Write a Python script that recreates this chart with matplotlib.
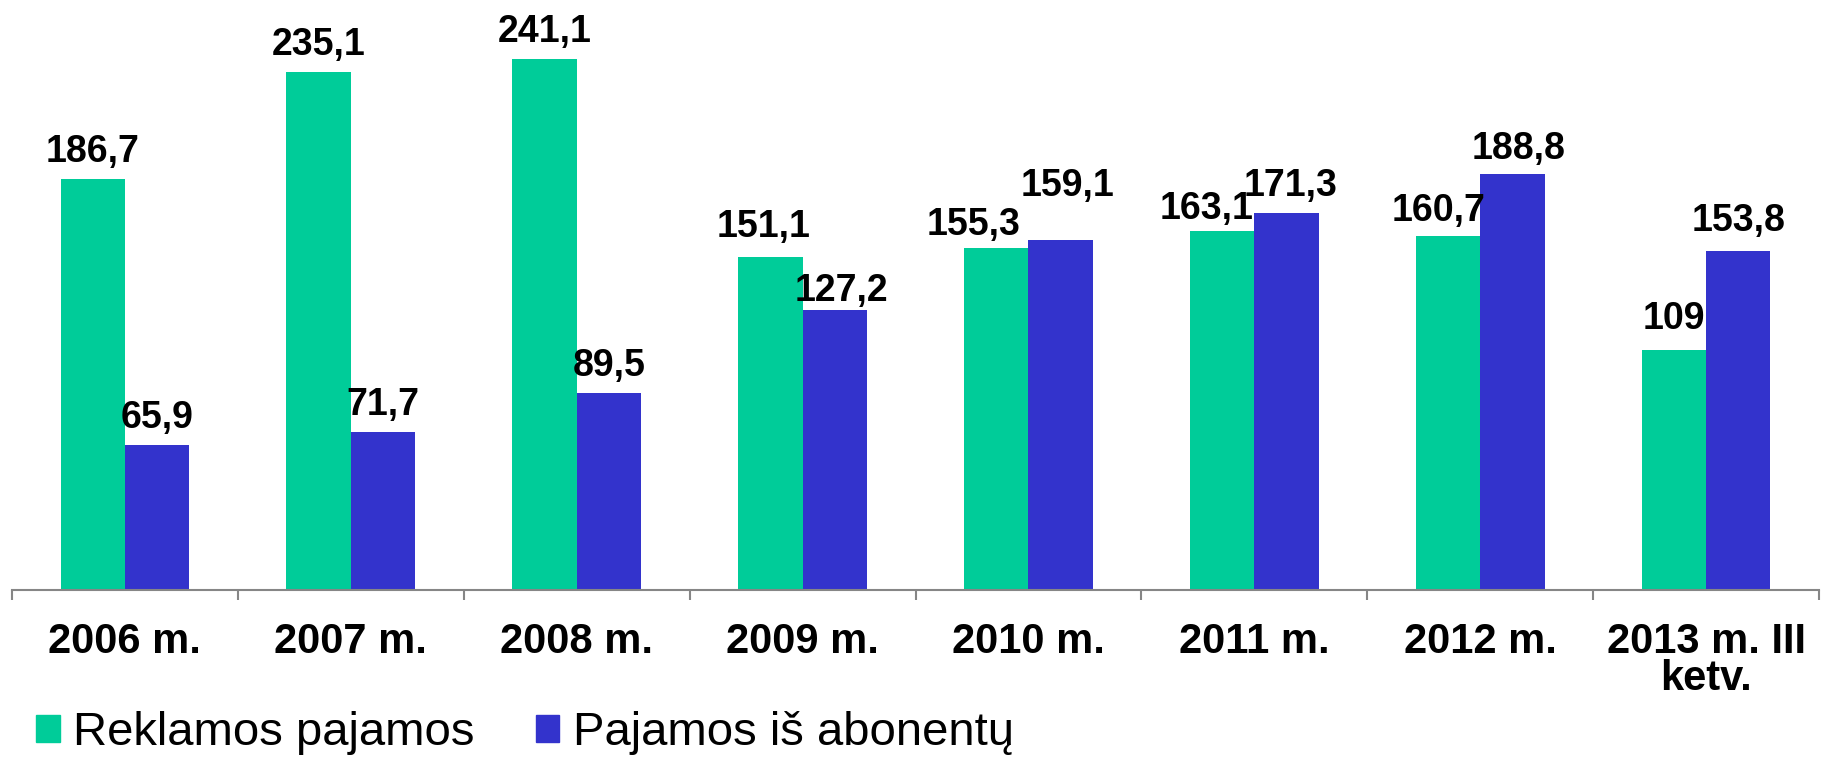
import matplotlib
matplotlib.use("Agg")
import matplotlib.pyplot as plt
from matplotlib.patches import Patch
import numpy as np

categories = ["2006 m.", "2007 m.", "2008 m.", "2009 m.", "2010 m.", "2011 m.", "2012 m.", "2013 m. III\nketv."]
reklamos = [186.7, 235.1, 241.1, 151.1, 155.3, 163.1, 160.7, 109]
abonentu = [65.9, 71.7, 89.5, 127.2, 159.1, 171.3, 188.8, 153.8]
series_names = ["Reklamos pajamos", "Pajamos iš abonentų"]

# label placement tweaks (style): horizontal shift in bar widths, gap above bar in px
green_dx = [0, 0, 0, -0.1, -0.35, -0.24, -0.14, 0]
blue_dx = [0, 0, 0, 0.1, 0.1, 0.07, 0.09, 0]
green_gap = [17, 17, 17, 20, 13, 12, 15, 21]
blue_gap = [17, 17, 17, 9, 44, 17, 15, 20]

GREEN = "#00CC99"
BLUE = "#3333CC"
AXIS = "#868686"

plt.rcParams["font.family"] = ["Liberation Sans", "DejaVu Sans"]

def fmt(v):
    s = f"{v:.1f}".replace(".", ",")
    if s.endswith(",0"):
        s = s[:-2]
    return s

W, H = 1825, 757
fig = plt.figure(figsize=(W / 100, H / 100), dpi=100)
ax = fig.add_axes([12 / W, (H - 590) / H, (1819 - 12) / W, 590 / H])

x = np.arange(len(categories))
bw = 0.285
ax.bar(x - bw / 2, reklamos, bw, color=GREEN, label=series_names[0])
ax.bar(x + bw / 2, abonentu, bw, color=BLUE, label=series_names[1])

for i in range(len(categories)):
    ax.annotate(fmt(reklamos[i]), xy=(x[i] - bw / 2 + green_dx[i] * bw, reklamos[i]),
                xytext=(0, green_gap[i]), textcoords="offset pixels",
                ha="center", va="baseline", fontsize=27, fontweight="bold")
    ax.annotate(fmt(abonentu[i]), xy=(x[i] + bw / 2 + blue_dx[i] * bw, abonentu[i]),
                xytext=(0, blue_gap[i]), textcoords="offset pixels",
                ha="center", va="baseline", fontsize=27, fontweight="bold")

ax.set_xlim(-0.5, len(categories) - 0.5)
ax.set_ylim(0, 268)
for s in ["top", "right", "left"]:
    ax.spines[s].set_visible(False)
ax.spines["bottom"].set_color(AXIS)
ax.spines["bottom"].set_linewidth(1.5)
ax.set_yticks([])

ax.set_xticks(x)
ax.set_xticklabels(categories, fontsize=30, fontweight="bold", linespacing=0.9)
ax.tick_params(axis="x", which="major", length=0, pad=23)
ax.set_xticks(np.arange(-0.5, len(categories)), minor=True)
ax.tick_params(axis="x", which="minor", length=7, width=1.5, color=AXIS, direction="out")

handles = [Patch(color=GREEN), Patch(color=BLUE)]
fig.legend(handles, series_names, loc="center left", bbox_to_anchor=(36 / W, 1 - 733 / H),
           ncol=2, frameon=False, fontsize=34, handlelength=0.5, handleheight=0.5,
           handletextpad=0.28, columnspacing=1.3, borderpad=0, borderaxespad=0)

fig.savefig("out.png", dpi=100)
